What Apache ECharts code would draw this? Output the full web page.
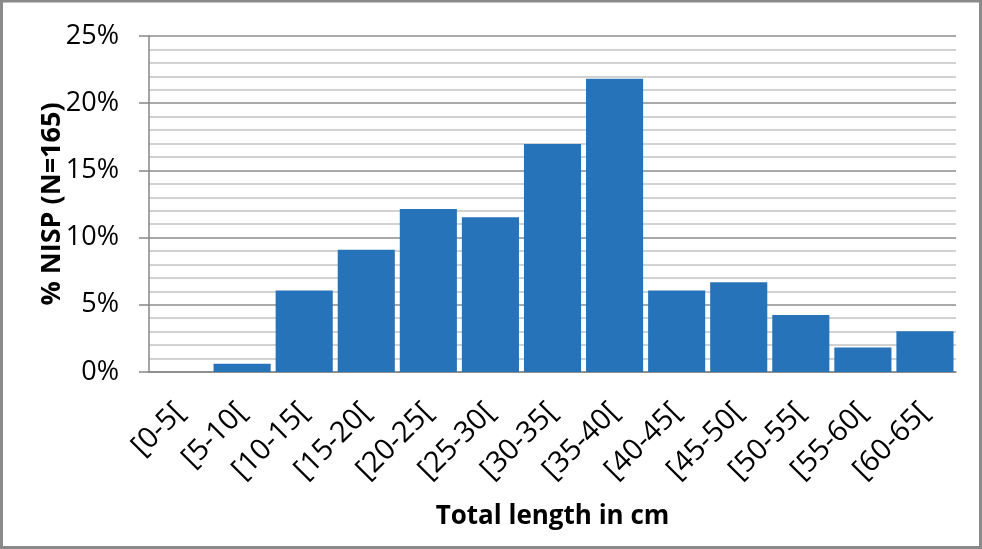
<!DOCTYPE html>
<html>
<head>
<meta charset="utf-8">
<script src="https://cdn.jsdelivr.net/npm/echarts@6/dist/echarts.min.js"></script>
<style>
html,body{margin:0;padding:0;background:#fff;}
#chart{width:982px;height:549px;}
</style>
</head>
<body>
<div id="chart"></div>
<script>
const categories = ['[0-5[', '[5-10[', '[10-15[', '[15-20[', '[20-25[', '[25-30[', '[30-35[', '[35-40[', '[40-45[', '[45-50[', '[50-55[', '[55-60[', '[60-65['];
const nispPercent = [0, 0.61, 6.06, 9.09, 12.12, 11.52, 16.97, 21.82, 6.06, 6.67, 4.24, 1.82, 3.03];
const yTicks = [0, 5, 10, 15, 20, 25];

const font = '"Open Sans", Lato, "DejaVu Sans", sans-serif';
const chart = echarts.init(document.getElementById('chart'), null, {renderer: 'canvas'});
chart.setOption({
  animation: false,
  backgroundColor: '#fff',
  graphic: [{
    type: 'rect',
    shape: {x: 1.5, y: 1, width: 979, height: 546.5},
    style: {fill: 'none', stroke: '#8a8a8a', lineWidth: 3},
    z: 100
  }],
  grid: {left: 149, right: 26, top: 36, bottom: 177, containLabel: false},
  xAxis: {
    type: 'category',
    data: categories,
    name: 'Total length in cm',
    nameLocation: 'middle',
    nameGap: 132,
    nameMoveOverlap: false,
    nameTextStyle: {fontFamily: font, fontWeight: 'bold', fontSize: 26, color: '#000'},
    axisLine: {lineStyle: {color: '#868686', width: 1.5}},
    axisTick: {show: false},
    axisLabel: {rotate: 45, fontFamily: font, fontSize: 29, color: '#000', margin: 36, interval: 0}
  },
  yAxis: {
    type: 'value',
    min: yTicks[0],
    max: yTicks[yTicks.length - 1],
    interval: 5,
    name: '% NISP (N=165)',
    nameLocation: 'middle',
    nameGap: 83,
    nameMoveOverlap: false,
    nameTextStyle: {fontFamily: font, fontWeight: 'bold', fontSize: 27, color: '#000'},
    axisLine: {show: true, lineStyle: {color: '#868686', width: 1.5}},
    axisTick: {show: true, length: 10, lineStyle: {color: '#868686', width: 1.5}},
    axisLabel: {formatter: '{value}%', fontFamily: font, fontSize: 27, color: '#000', margin: 30},
    splitLine: {show: true, lineStyle: {color: '#8c8c8c', width: 1.5}},
    minorTick: {show: false, splitNumber: 5},
    minorSplitLine: {show: true, lineStyle: {color: '#c4c4c4', width: 1.5}}
  },
  series: [{
    type: 'bar',
    data: nispPercent,
    barCategoryGap: '8%',
    itemStyle: {color: '#2773b9'}
  }]
});
</script>
</body>
</html>
